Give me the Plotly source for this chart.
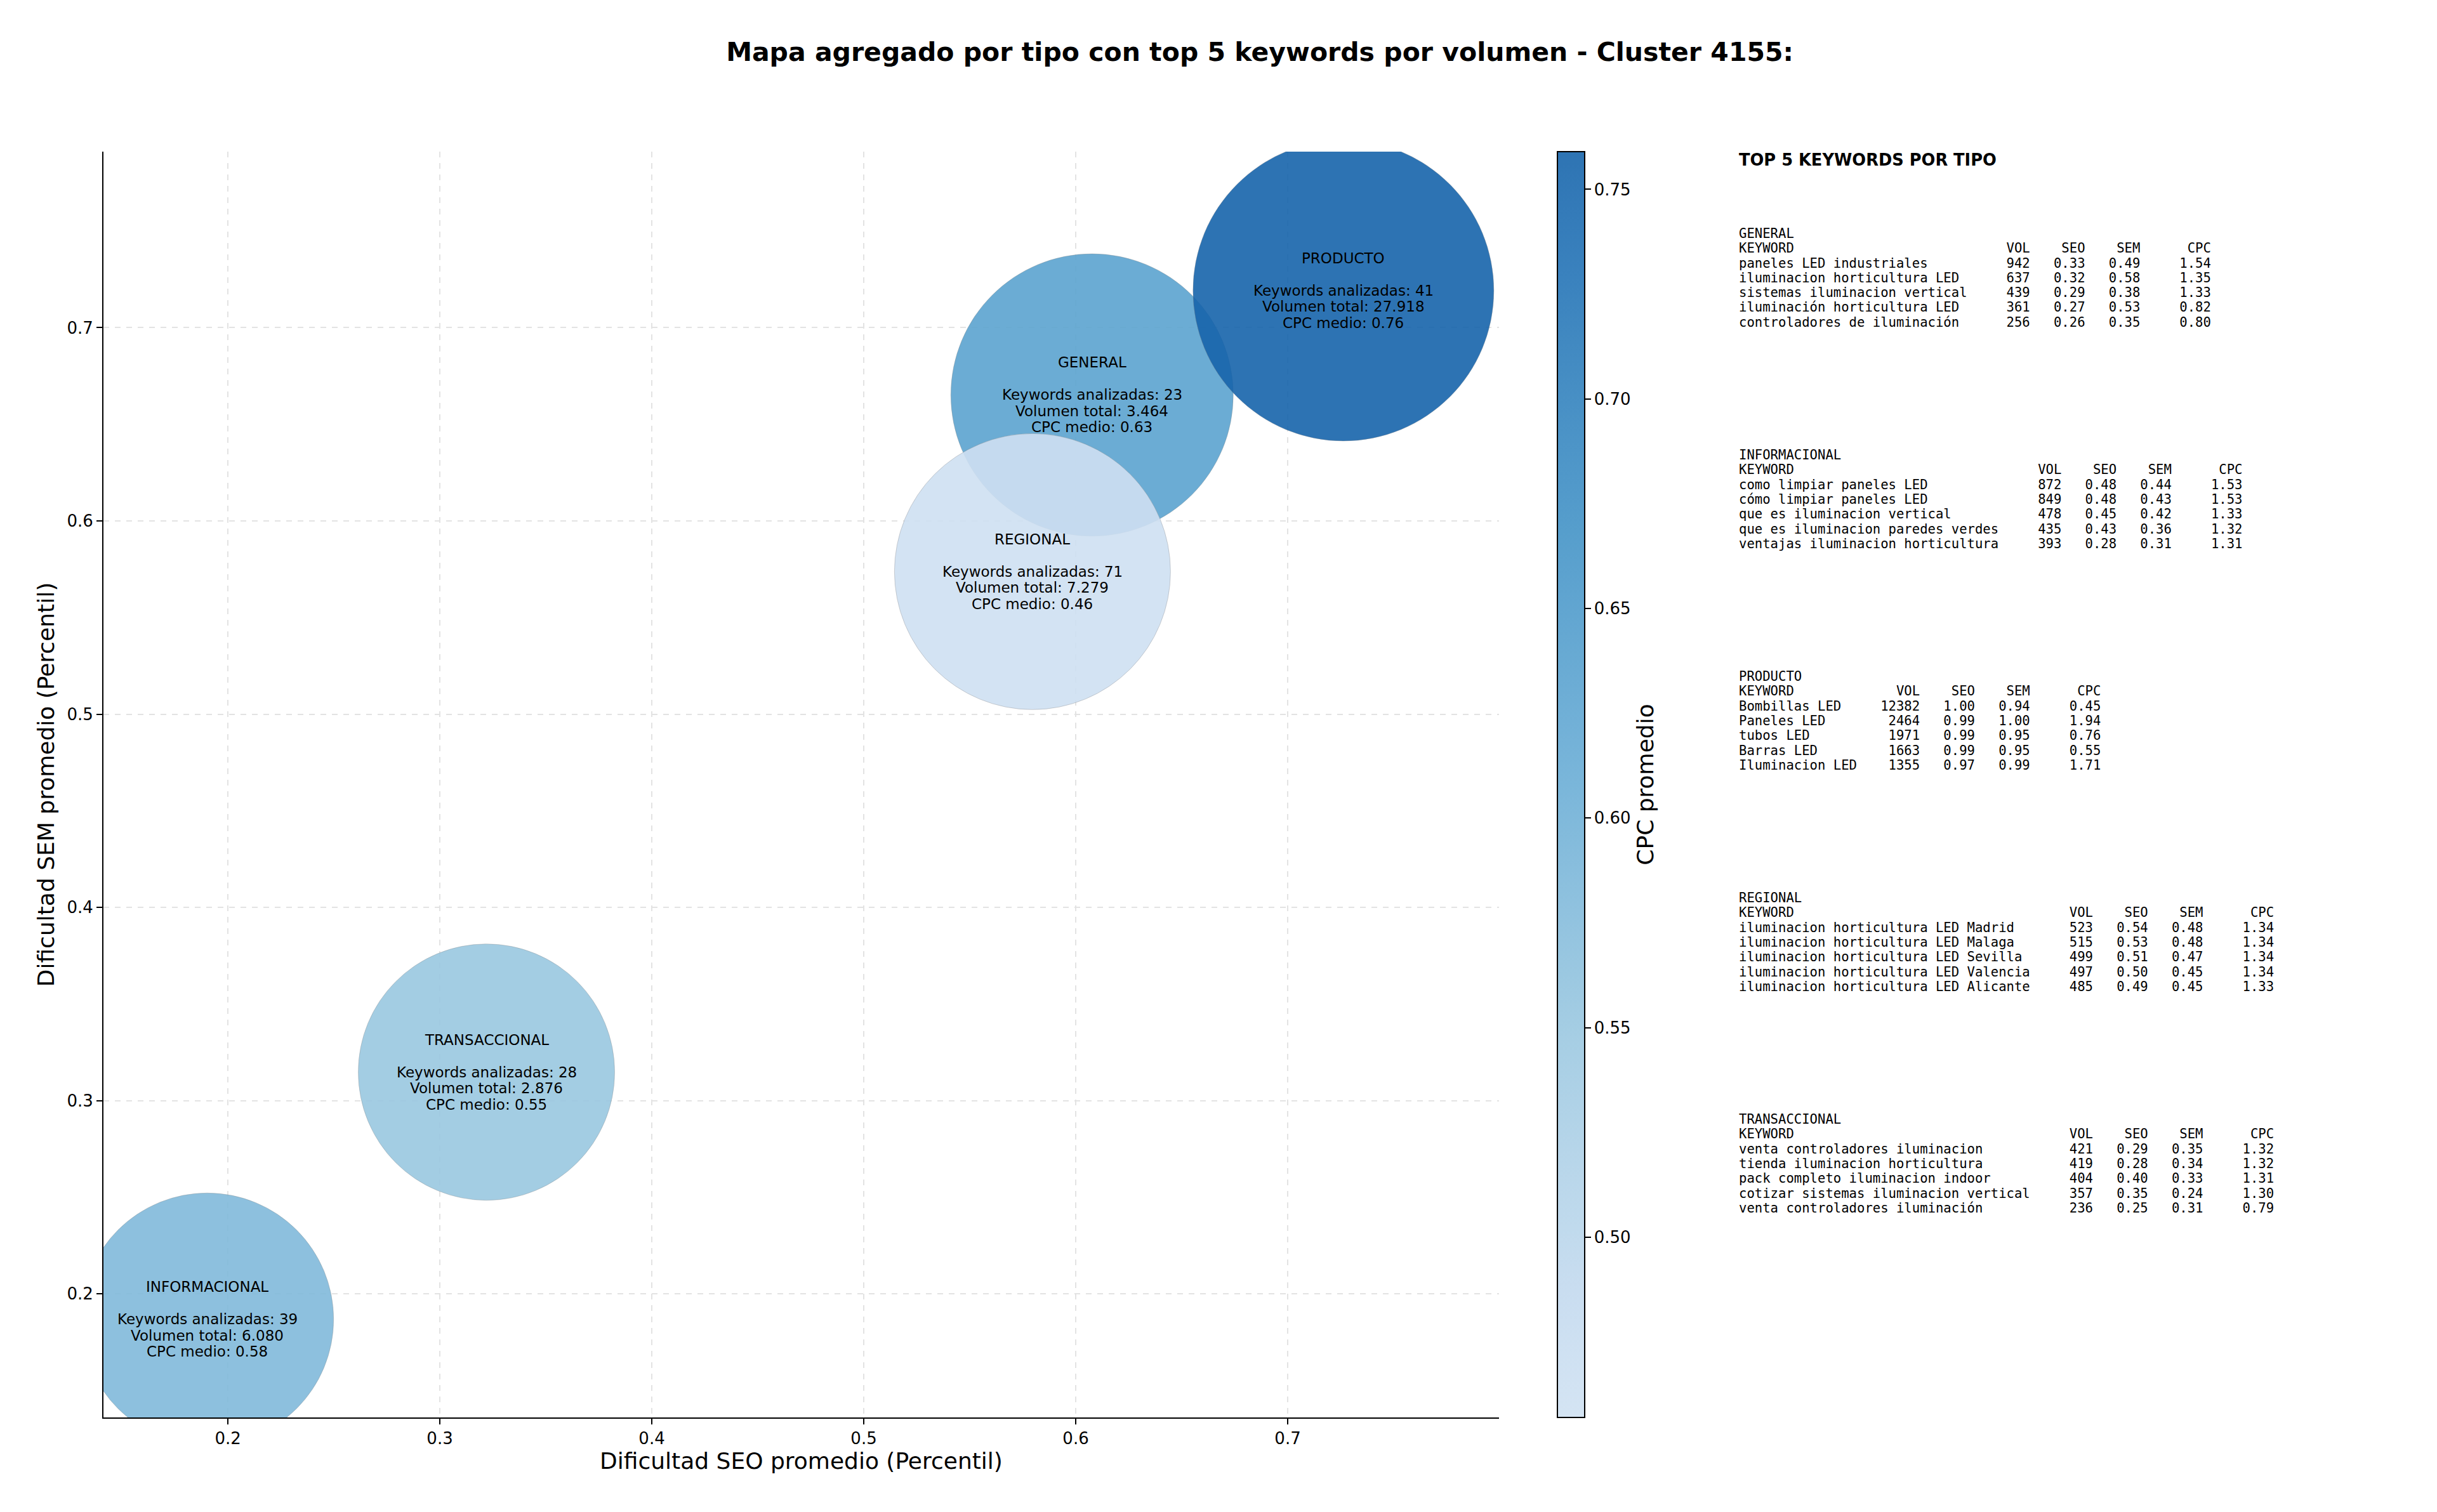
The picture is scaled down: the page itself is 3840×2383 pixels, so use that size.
import plotly.graph_objects as go

# ---------------- data ----------------
tipos = ["GENERAL", "INFORMACIONAL", "PRODUCTO", "REGIONAL", "TRANSACCIONAL"]
seo_prom = [0.6077, 0.1903, 0.7263, 0.5796, 0.3220]
sem_prom = [0.6652, 0.1869, 0.7192, 0.5738, 0.3148]
n_keywords = [23, 39, 41, 71, 28]
vol_total = [3464, 6080, 27918, 7279, 2876]
cpc_medio = [0.63, 0.58, 0.76, 0.46, 0.55]

top_kw = {
    "GENERAL": ["paneles LED industriales", "iluminacion horticultura LED", "sistemas iluminacion vertical",
                "iluminación horticultura LED", "controladores de iluminación"],
    "INFORMACIONAL": ["como limpiar paneles LED", "cómo limpiar paneles LED", "que es iluminacion vertical",
                      "que es iluminacion paredes verdes", "ventajas iluminacion horticultura"],
    "PRODUCTO": ["Bombillas LED", "Paneles LED", "tubos LED", "Barras LED", "Iluminacion LED"],
    "REGIONAL": ["iluminacion horticultura LED Madrid", "iluminacion horticultura LED Malaga",
                 "iluminacion horticultura LED Sevilla", "iluminacion horticultura LED Valencia",
                 "iluminacion horticultura LED Alicante"],
    "TRANSACCIONAL": ["venta controladores iluminacion", "tienda iluminacion horticultura",
                      "pack completo iluminacion indoor", "cotizar sistemas iluminacion vertical",
                      "venta controladores iluminación"],
}
top_vol = {
    "GENERAL": [942, 637, 439, 361, 256],
    "INFORMACIONAL": [872, 849, 478, 435, 393],
    "PRODUCTO": [12382, 2464, 1971, 1663, 1355],
    "REGIONAL": [523, 515, 499, 497, 485],
    "TRANSACCIONAL": [421, 419, 404, 357, 236],
}
top_seo = {
    "GENERAL": [0.33, 0.32, 0.29, 0.27, 0.26],
    "INFORMACIONAL": [0.48, 0.48, 0.45, 0.43, 0.28],
    "PRODUCTO": [1.00, 0.99, 0.99, 0.99, 0.97],
    "REGIONAL": [0.54, 0.53, 0.51, 0.50, 0.49],
    "TRANSACCIONAL": [0.29, 0.28, 0.40, 0.35, 0.25],
}
top_sem = {
    "GENERAL": [0.49, 0.58, 0.38, 0.53, 0.35],
    "INFORMACIONAL": [0.44, 0.43, 0.42, 0.36, 0.31],
    "PRODUCTO": [0.94, 1.00, 0.95, 0.95, 0.99],
    "REGIONAL": [0.48, 0.48, 0.47, 0.45, 0.45],
    "TRANSACCIONAL": [0.35, 0.34, 0.33, 0.24, 0.31],
}
top_cpc = {
    "GENERAL": [1.54, 1.35, 1.33, 0.82, 0.80],
    "INFORMACIONAL": [1.53, 1.53, 1.33, 1.32, 1.31],
    "PRODUCTO": [0.45, 1.94, 0.76, 0.55, 1.71],
    "REGIONAL": [1.34, 1.34, 1.34, 1.34, 1.33],
    "TRANSACCIONAL": [1.32, 1.32, 1.31, 1.30, 0.79],
}

# ---------------- style ----------------
W, H = 3840, 2383
PL, PR, PT, PB = 163, 2362, 239, 2234          # plot area in pixels
bubble_diam = [445, 398, 474, 435, 404]          # marker diameters (px)
ALPHA = 0.9
CMIN, CMAX = 0.457, 0.759

blues = [(0.0, (247, 251, 255)), (0.125, (222, 235, 247)), (0.25, (198, 219, 239)),
         (0.375, (158, 202, 225)), (0.5, (107, 174, 214)), (0.625, (66, 146, 198)),
         (0.75, (33, 113, 181)), (0.875, (8, 81, 156)), (1.0, (8, 48, 107))]


def blues_at(t):
    for (a, ca), (b, cb) in zip(blues[:-1], blues[1:]):
        if a <= t <= b:
            f = (t - a) / (b - a)
            return [ca[i] + (cb[i] - ca[i]) * f for i in range(3)]
    return list(blues[-1][1])


def make_scale(blend):
    sc = []
    n = 20
    for i in range(n + 1):
        t = i / n
        c = blues_at(0.2 + 0.6 * t)
        if blend:
            c = [ALPHA * v + (1 - ALPHA) * 255 for v in c]
        sc.append([t, "rgb(%d,%d,%d)" % tuple(round(v) for v in c)])
    return sc


def px2paper_x(px):
    return (px - PL) / (PR - PL)


def px2paper_y(py):
    return (PB - py) / (PB - PT)


fig = go.Figure()

fig.add_trace(go.Scatter(
    x=seo_prom, y=sem_prom, mode="markers",
    marker=dict(size=bubble_diam, sizemode="diameter", color=cpc_medio,
                colorscale=make_scale(False), cmin=CMIN, cmax=CMAX, opacity=ALPHA,
                line=dict(width=1, color="rgba(120,120,120,0.35)"), showscale=False),
    hoverinfo="skip", showlegend=False, cliponaxis=True))

# colour bar (blended colours like the reference)
fig.add_trace(go.Scatter(
    x=seo_prom, y=sem_prom, mode="markers",
    marker=dict(size=1, color=cpc_medio, colorscale=make_scale(True), cmin=CMIN, cmax=CMAX,
                opacity=0, showscale=True,
                colorbar=dict(
                    x=px2paper_x(2454), xanchor="left", xref="paper", xpad=0, ypad=0,
                    y=0.5, yanchor="middle", len=PB - PT, lenmode="pixels",
                    thickness=43, thicknessmode="pixels",
                    outlinewidth=2, outlinecolor="black",
                    tickvals=[0.50, 0.55, 0.60, 0.65, 0.70, 0.75], tickformat=".2f",
                    ticks="outside", ticklen=9, tickwidth=2, tickcolor="black",
                    tickfont=dict(family="DejaVu Sans", size=26, color="black"),
                    title=dict(text="CPC promedio", side="right",
                               font=dict(family="DejaVu Sans", size=36, color="black")),
                )),
    hoverinfo="skip", showlegend=False))

annotations = []
# bubble texts
LINE = 25.5
for i, t in enumerate(tipos):
    lines = [t, None, f"Keywords analizadas: {n_keywords[i]}",
             "Volumen total: " + f"{vol_total[i]:,}".replace(",", "."),
             f"CPC medio: {cpc_medio[i]:.2f}"]
    for k, txt in enumerate(lines):
        if txt is None:
            continue
        annotations.append(dict(x=seo_prom[i], y=sem_prom[i], xref="x", yref="y",
                                text=txt, showarrow=False, xanchor="center", yanchor="middle",
                                yshift=-(k - 2) * LINE,
                                font=dict(family="DejaVu Sans", size=23, color="black")))

# side table
TX = 2738
annotations.append(dict(x=px2paper_x(TX), y=px2paper_y(252), xref="paper", yref="paper",
                        text="<b>TOP 5 KEYWORDS POR TIPO</b>", showarrow=False,
                        xanchor="left", yanchor="middle",
                        font=dict(family="DejaVu Sans", size=25.7, color="black")))
TL = 23.3
for bi, t in enumerate(tipos):
    kws = top_kw[t]
    w = max(len(k) for k in kws) + 3
    rows = [t, f"{'KEYWORD':<{w}}{'VOL':>5}{'SEO':>7}{'SEM':>7}{'CPC':>9}"]
    for j in range(5):
        rows.append(f"{kws[j]:<{w}}{top_vol[t][j]:>5}{top_seo[t][j]:>7.2f}"
                    f"{top_sem[t][j]:>7.2f}{top_cpc[t][j]:>9.2f}")
    y0 = 368 + 349 * bi
    for r, txt in enumerate(rows):
        annotations.append(dict(x=px2paper_x(TX), y=px2paper_y(y0 + TL * r), xref="paper", yref="paper",
                                text=txt.replace(" ", "\u00a0"), showarrow=False,
                                xanchor="left", yanchor="middle",
                                font=dict(family="DejaVu Sans Mono", size=20.6, color="black")))

axis_common = dict(
    showline=True, linewidth=2, linecolor="black", mirror=False,
    ticks="outside", ticklen=9, tickwidth=2, tickcolor="black",
    showgrid=True, gridcolor="#e3e3e3", gridwidth=1.5, griddash="dash",
    zeroline=False, tickfont=dict(family="DejaVu Sans", size=26, color="black"),
)

fig.update_layout(
    width=W, height=H, autosize=False,
    margin=dict(l=PL, r=W - PR, t=PT, b=H - PB, pad=0),
    paper_bgcolor="white", plot_bgcolor="white",
    font=dict(family="DejaVu Sans", color="black"),
    title=dict(text="<b>Mapa agregado por tipo con top 5 keywords por volumen - Cluster 4155:</b>",
               x=1985 / W, xref="container", xanchor="center",
               y=1 - 82 / H, yref="container", yanchor="middle",
               font=dict(family="DejaVu Sans", size=41, color="black")),
    xaxis=dict(range=[0.1413, 0.7997], tickvals=[0.2, 0.3, 0.4, 0.5, 0.6, 0.7],
               ticktext=["0.2", "0.3", "0.4", "0.5", "0.6", "0.7"],
               title=dict(text="Dificultad SEO promedio (Percentil)", standoff=8,
                          font=dict(family="DejaVu Sans", size=36, color="black")),
               **axis_common),
    yaxis=dict(range=[0.1361, 0.7911], tickvals=[0.2, 0.3, 0.4, 0.5, 0.6, 0.7],
               ticktext=["0.2", "0.3", "0.4", "0.5", "0.6", "0.7"],
               title=dict(text="Dificultad SEM promedio (Percentil)", standoff=9,
                          font=dict(family="DejaVu Sans", size=36, color="black")),
               **axis_common),
    annotations=annotations,
)

fig.write_html("out.html")
